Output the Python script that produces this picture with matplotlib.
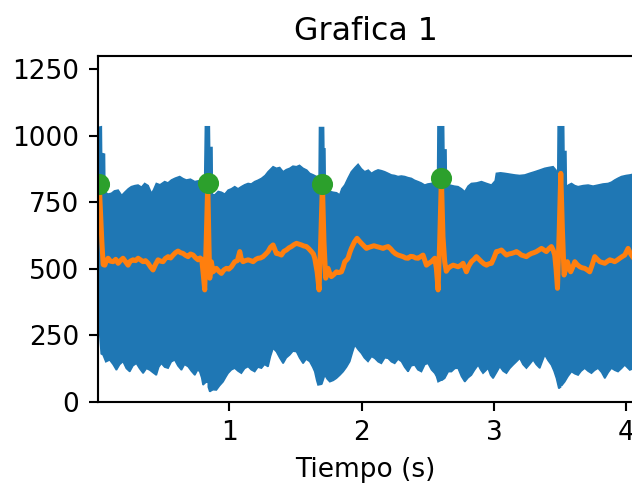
import numpy as np
import matplotlib
matplotlib.use("Agg")
import matplotlib.pyplot as plt

# Raw ECG trace: dense mains interference, drawn as its upper / lower envelope
t_upper = [0.002, 0.031, 0.033, 0.055, 0.058, 0.080, 0.107, 0.130, 0.158, 0.185,
           0.208, 0.235, 0.258, 0.285, 0.309, 0.335, 0.359, 0.385, 0.410, 0.425,
           0.447, 0.475, 0.510, 0.535, 0.561, 0.590, 0.624, 0.650, 0.674, 0.705,
           0.738, 0.765, 0.788, 0.812, 0.818, 0.848, 0.850, 0.868, 0.871, 0.889,
           0.915, 0.939, 0.965, 0.990, 1.015, 1.040, 1.065, 1.090, 1.115, 1.141,
           1.165, 1.191, 1.215, 1.242, 1.270, 1.292, 1.330, 1.355, 1.380, 1.406,
           1.430, 1.456, 1.480, 1.507, 1.530, 1.557, 1.585, 1.607, 1.635, 1.658,
           1.678, 1.681, 1.712, 1.714, 1.722, 1.725, 1.733, 1.760, 1.784, 1.810,
           1.834, 1.850, 1.872, 1.897, 1.922, 1.950, 1.973, 1.998, 2.023, 2.050,
           2.074, 2.100, 2.124, 2.150, 2.174, 2.200, 2.225, 2.250, 2.275, 2.300,
           2.326, 2.350, 2.376, 2.400, 2.426, 2.450, 2.477, 2.500, 2.527, 2.550,
           2.574, 2.577, 2.620, 2.622, 2.638, 2.641, 2.666, 2.700, 2.729, 2.755,
           2.780, 2.805, 2.830, 2.870, 2.906, 2.945, 2.982, 3.010, 3.019, 3.050,
           3.082, 3.120, 3.158, 3.195, 3.234, 3.270, 3.309, 3.345, 3.385, 3.415,
           3.448, 3.470, 3.483, 3.486, 3.528, 3.530, 3.545, 3.548, 3.567, 3.587,
           3.612, 3.637, 3.675, 3.713, 3.750, 3.788, 3.825, 3.864, 3.890, 3.914,
           3.940, 3.965, 4.000, 4.028, 4.056]
v_upper = [1030, 1033, 933, 930, 789, 780, 783, 792, 795, 775,
           787, 800, 808, 812, 814, 806, 820, 812, 783, 795,
           820, 815, 827, 822, 833, 840, 846, 838, 833, 836,
           827, 830, 820, 815, 1033, 1033, 955, 955, 778, 777,
           790, 787, 780, 795, 800, 808, 800, 808, 815, 820,
           818, 827, 832, 839, 850, 864, 883, 877, 880, 864,
           872, 877, 885, 883, 888, 877, 870, 858, 852, 846,
           840, 1030, 1030, 950, 950, 795, 795, 790, 787, 785,
           777, 800, 814, 840, 864, 880, 892, 875, 864, 870,
           858, 866, 871, 868, 864, 858, 852, 850, 846, 848,
           846, 842, 839, 832, 827, 822, 814, 818, 820, 825,
           827, 1033, 1033, 946, 946, 812, 814, 810, 808, 800,
           789, 810, 820, 822, 827, 820, 814, 830, 858, 860,
           858, 855, 852, 850, 852, 858, 864, 870, 877, 880,
           883, 870, 846, 1033, 1033, 940, 940, 808, 815, 820,
           812, 808, 812, 814, 810, 814, 818, 820, 825, 833,
           840, 846, 850, 852, 855]

t_lower = [0.002, 0.010, 0.018, 0.030, 0.044, 0.065, 0.094, 0.120, 0.145, 0.170,
           0.195, 0.220, 0.246, 0.270, 0.296, 0.320, 0.347, 0.372, 0.397, 0.420,
           0.447, 0.465, 0.485, 0.510, 0.536, 0.560, 0.586, 0.610, 0.637, 0.660,
           0.687, 0.712, 0.738, 0.760, 0.775, 0.790, 0.800, 0.826, 0.834, 0.836,
           0.840, 0.851, 0.875, 0.901, 0.925, 0.952, 0.975, 0.990, 1.015, 1.040,
           1.065, 1.090, 1.115, 1.141, 1.165, 1.191, 1.215, 1.242, 1.265, 1.292,
           1.310, 1.330, 1.355, 1.380, 1.406, 1.430, 1.456, 1.480, 1.507, 1.530,
           1.557, 1.580, 1.607, 1.630, 1.645, 1.660, 1.670, 1.690, 1.694, 1.698,
           1.721, 1.740, 1.759, 1.785, 1.809, 1.835, 1.860, 1.885, 1.910, 1.930,
           1.948, 1.975, 1.998, 2.020, 2.048, 2.075, 2.099, 2.125, 2.149, 2.175,
           2.200, 2.225, 2.250, 2.275, 2.301, 2.325, 2.351, 2.375, 2.401, 2.425,
           2.452, 2.478, 2.502, 2.528, 2.553, 2.566, 2.578, 2.598, 2.601, 2.605,
           2.628, 2.655, 2.679, 2.705, 2.729, 2.755, 2.780, 2.805, 2.830, 2.855,
           2.881, 2.900, 2.918, 2.935, 2.956, 2.975, 2.994, 3.020, 3.045, 3.070,
           3.095, 3.120, 3.145, 3.170, 3.196, 3.220, 3.246, 3.270, 3.297, 3.320,
           3.347, 3.365, 3.385, 3.410, 3.435, 3.455, 3.473, 3.491, 3.505, 3.508,
           3.512, 3.536, 3.560, 3.587, 3.612, 3.637, 3.660, 3.687, 3.712, 3.738,
           3.762, 3.788, 3.815, 3.839, 3.865, 3.889, 3.915, 3.939, 3.965, 3.990,
           4.010, 4.028, 4.056]
v_lower = [330, 320, 260, 180, 176, 150, 157, 140, 119, 140,
           151, 125, 113, 135, 144, 125, 107, 125, 119, 110,
           100, 130, 144, 130, 126, 150, 157, 135, 119, 140,
           132, 115, 100, 120, 113, 90, 63, 75, 72, 370,
           55, 38, 45, 44, 60, 75, 95, 107, 120, 126,
           115, 107, 125, 132, 120, 113, 130, 126, 140, 132,
           170, 201, 188, 165, 144, 165, 176, 190, 188, 165,
           144, 160, 151, 130, 113, 80, 63, 65, 230, 65,
           100, 85, 75, 80, 88, 100, 113, 130, 151, 185,
           213, 195, 182, 165, 151, 170, 163, 150, 144, 165,
           163, 150, 144, 160, 151, 130, 113, 135, 138, 120,
           113, 140, 144, 120, 107, 95, 75, 80, 326, 80,
           88, 113, 113, 125, 126, 95, 75, 90, 100, 120,
           138, 120, 107, 115, 126, 100, 88, 110, 132, 115,
           107, 125, 138, 150, 163, 140, 126, 140, 157, 140,
           126, 150, 176, 155, 138, 115, 88, 50, 55, 251,
           60, 75, 95, 113, 105, 100, 115, 126, 115, 107,
           118, 126, 110, 88, 110, 126, 118, 113, 125, 138,
           128, 119, 125]

# Filtered ECG
t_filt = [0.004, 0.015, 0.035, 0.045, 0.057, 0.070, 0.082, 0.100, 0.120, 0.140,
          0.158, 0.175, 0.195, 0.215, 0.233, 0.250, 0.271, 0.290, 0.309, 0.330,
          0.347, 0.365, 0.385, 0.405, 0.422, 0.440, 0.460, 0.480, 0.498, 0.515,
          0.536, 0.555, 0.574, 0.592, 0.611, 0.630, 0.649, 0.668, 0.687, 0.705,
          0.725, 0.745, 0.763, 0.778, 0.790, 0.800, 0.813, 0.824, 0.836, 0.845,
          0.851, 0.863, 0.876, 0.890, 0.901, 0.920, 0.939, 0.958, 0.977, 0.995,
          1.015, 1.040, 1.060, 1.078, 1.090, 1.103, 1.120, 1.141, 1.160, 1.179,
          1.200, 1.217, 1.235, 1.254, 1.275, 1.292, 1.310, 1.330, 1.345, 1.355,
          1.375, 1.393, 1.412, 1.431, 1.450, 1.469, 1.488, 1.507, 1.525, 1.544,
          1.563, 1.582, 1.600, 1.620, 1.635, 1.645, 1.663, 1.678, 1.690, 1.703,
          1.715, 1.728, 1.746, 1.760, 1.771, 1.790, 1.809, 1.828, 1.847, 1.860,
          1.872, 1.885, 1.897, 1.910, 1.922, 1.945, 1.965, 1.980, 1.998, 2.018,
          2.036, 2.055, 2.074, 2.093, 2.112, 2.135, 2.162, 2.180, 2.200, 2.218,
          2.237, 2.256, 2.275, 2.295, 2.313, 2.332, 2.351, 2.370, 2.389, 2.408,
          2.427, 2.445, 2.464, 2.478, 2.490, 2.508, 2.527, 2.545, 2.553, 2.565,
          2.578, 2.590, 2.603, 2.615, 2.628, 2.640, 2.654, 2.672, 2.692, 2.710,
          2.729, 2.748, 2.767, 2.792, 2.810, 2.830, 2.850, 2.868, 2.888, 2.906,
          2.925, 2.944, 2.962, 2.982, 3.000, 3.019, 3.038, 3.057, 3.076, 3.095,
          3.114, 3.133, 3.152, 3.171, 3.190, 3.208, 3.228, 3.246, 3.265, 3.284,
          3.303, 3.322, 3.341, 3.360, 3.378, 3.397, 3.416, 3.435, 3.448, 3.460,
          3.470, 3.481, 3.494, 3.506, 3.518, 3.531, 3.544, 3.556, 3.568, 3.581,
          3.596, 3.612, 3.630, 3.650, 3.668, 3.687, 3.706, 3.725, 3.744, 3.763,
          3.782, 3.801, 3.820, 3.839, 3.858, 3.877, 3.895, 3.914, 3.933, 3.952,
          3.970, 3.990, 4.015, 4.035, 4.056]
v_filt = [800, 818, 600, 515, 513, 530, 539, 528, 526, 535,
          520, 530, 539, 525, 513, 528, 533, 530, 539, 532,
          526, 530, 520, 505, 495, 515, 533, 528, 526, 538,
          545, 540, 551, 560, 566, 560, 557, 550, 545, 555,
          551, 540, 533, 540, 535, 488, 420, 600, 822, 590,
          464, 526, 488, 495, 501, 490, 482, 495, 501, 498,
          507, 526, 530, 564, 535, 526, 530, 533, 530, 526,
          535, 539, 540, 545, 555, 564, 580, 589, 570, 557,
          555, 551, 565, 570, 578, 583, 590, 595, 592, 589,
          585, 583, 575, 564, 555, 539, 488, 420, 600, 817,
          600, 464, 501, 480, 470, 478, 488, 485, 488, 505,
          526, 532, 539, 560, 576, 600, 614, 605, 595, 585,
          576, 580, 583, 586, 583, 580, 576, 580, 583, 575,
          564, 556, 551, 548, 545, 540, 539, 546, 545, 540,
          539, 545, 551, 530, 513, 520, 526, 535, 539, 501,
          420, 600, 839, 620, 526, 490, 501, 508, 513, 510,
          507, 512, 520, 488, 510, 526, 535, 545, 535, 526,
          518, 513, 518, 520, 540, 564, 566, 570, 560, 551,
          555, 557, 560, 564, 558, 551, 548, 545, 552, 557,
          560, 564, 570, 576, 570, 564, 575, 583, 570, 551,
          500, 426, 640, 858, 650, 476, 500, 526, 505, 488,
          505, 526, 515, 507, 503, 501, 495, 488, 515, 545,
          535, 526, 523, 520, 527, 533, 530, 526, 532, 539,
          545, 551, 576, 555, 540]

# Detected R peaks
t_peaks = [0.015, 0.836, 1.703, 2.603]
v_peaks = [818, 822, 817, 839]

DPI = 190
fig = plt.figure(figsize=(632 / DPI, 485 / DPI), dpi=DPI)
ax = fig.add_axes([97.5 / 632, 83.3 / 485, 536.0 / 632, 346.0 / 485])

band_t = np.concatenate([t_upper, t_lower[::-1]])
band_v = np.concatenate([v_upper, v_lower[::-1]])
ax.fill(band_t, band_v, color="C0", linewidth=0.6, edgecolor="C0")
ax.plot(t_filt, v_filt, color="C1", linewidth=1.9, solid_joinstyle="round")
ax.plot(t_peaks, v_peaks, "o", color="C2", markersize=7)

ax.set_xlim(0.002, 4.056)
ax.set_ylim(0, 1300)
ax.set_xticks([1, 2, 3, 4])
ax.set_yticks([0, 250, 500, 750, 1000, 1250])
ax.set_title("Grafica 1")
ax.set_xlabel("Tiempo (s)")

fig.savefig("out.png", dpi=DPI)
